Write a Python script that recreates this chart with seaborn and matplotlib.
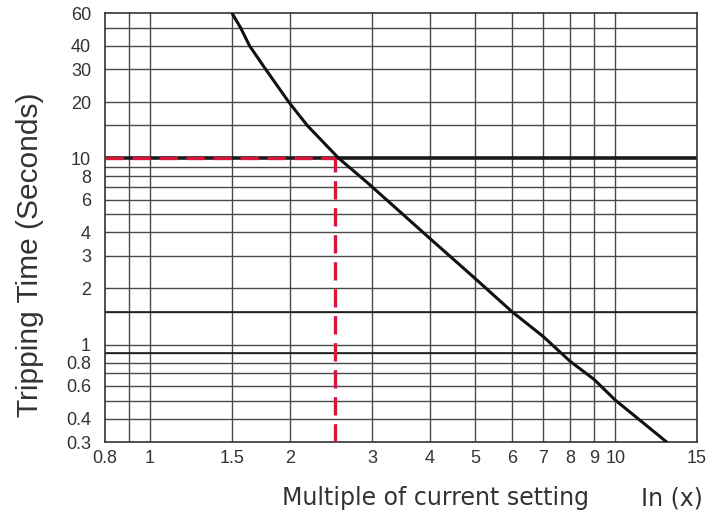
import matplotlib
matplotlib.use("Agg")
import matplotlib.pyplot as plt
import seaborn as sns
import pandas as pd
from matplotlib.ticker import FixedLocator, FixedFormatter, NullLocator

# ---- data ----
multiple = [1.5, 1.566, 1.637, 1.772, 1.987, 2.176, 2.543, 2.93, 4, 5, 6, 7, 8, 9, 10, 12.9]
trip_time = [60, 50, 40, 30, 20, 15, 10, 7.4, 3.7, 2.26, 1.5, 1.105, 0.813, 0.651, 0.504, 0.3]

x_tick_values = [0.8, 1, 1.5, 2, 3, 4, 5, 6, 7, 8, 9, 10, 15]
x_tick_labels = ["0.8", "1", "1.5", "2", "3", "4", "5", "6", "7", "8", "9", "10", "15"]
x_grid_values = [0.9, 1, 1.5, 2, 3, 4, 5, 6, 7, 8, 9, 10]

y_tick_values = [0.3, 0.4, 0.6, 0.8, 1, 2, 3, 4, 6, 8, 10, 20, 30, 40, 60]
y_tick_labels = ["0.3", "0.4", "0.6", "0.8", "1", "2", "3", "4", "6", "8", "10", "20", "30", "40", "60"]
y_grid_values = [0.4, 0.5, 0.6, 0.7, 0.8, 0.9, 1, 1.5, 2, 3, 4, 5, 6, 7, 8, 9, 15, 20, 30, 40, 50]
y_dark_grid_values = [0.9, 1.5]

setting_multiple = 2.5
setting_time = 10
x_range = (0.8, 15)
y_range = (0.3, 60)

df = pd.DataFrame({"multiple": multiple, "time": trip_time})

sns.set_style("white")
plt.rcParams["font.family"] = ["Liberation Sans", "DejaVu Sans"]

fig = plt.figure(figsize=(7.07, 5.18), dpi=100)
ax = fig.add_axes([0.1485, 0.1467, 0.8375, 0.828])
ax.set_xscale("log")
ax.set_yscale("log")
ax.set_xlim(*x_range)
ax.set_ylim(*y_range)

grid_color = "#4a4a4a"
for gx in x_grid_values:
    ax.axvline(gx, color=grid_color, lw=1.0, zorder=1)
for gy in y_grid_values:
    ax.axhline(gy, color=grid_color, lw=1.0, zorder=1)
for gy in y_dark_grid_values:
    ax.axhline(gy, color="#111111", lw=1.1, zorder=1)

# thick reference line at the set time
ax.axhline(setting_time, color="#1a1a1a", lw=2.6, zorder=2)

sns.lineplot(data=df, x="multiple", y="time", ax=ax, color="#111111",
             lw=2.2, sort=True, zorder=4, estimator=None)

red = "#d8153b"
ax.plot([x_range[0], setting_multiple], [setting_time, setting_time], color=red,
        lw=2.4, dashes=(5.5, 2.6), zorder=5)
ax.plot([setting_multiple, setting_multiple], [y_range[0], setting_time], color=red,
        lw=2.4, dashes=(5.5, 2.6), zorder=5)

ax.xaxis.set_major_locator(FixedLocator(x_tick_values))
ax.xaxis.set_major_formatter(FixedFormatter(x_tick_labels))
ax.xaxis.set_minor_locator(NullLocator())
ax.yaxis.set_major_locator(FixedLocator(y_tick_values))
ax.yaxis.set_major_formatter(FixedFormatter(y_tick_labels))
ax.yaxis.set_minor_locator(NullLocator())

ax.tick_params(axis="both", length=0, labelsize=13, colors="#333333")
ax.tick_params(axis="x", pad=6)
ax.tick_params(axis="y", pad=10)

for sp in ax.spines.values():
    sp.set_color("#333333")
    sp.set_linewidth(1.2)

ax.set_xlabel("")
ax.set_ylabel("")
fig.text(0.042, 0.508, "Tripping Time (Seconds)", rotation=90, ha="center",
         va="center", fontsize=21.5, color="#333333")
fig.text(0.616, 0.025, "Multiple of current setting", ha="center", va="baseline",
         fontsize=17, color="#333333", family=["DejaVu Sans"])
fig.text(0.950, 0.025, "In (x)", ha="center", va="baseline",
         fontsize=17, color="#333333", family=["DejaVu Sans"])

fig.savefig("out.png", dpi=100)
